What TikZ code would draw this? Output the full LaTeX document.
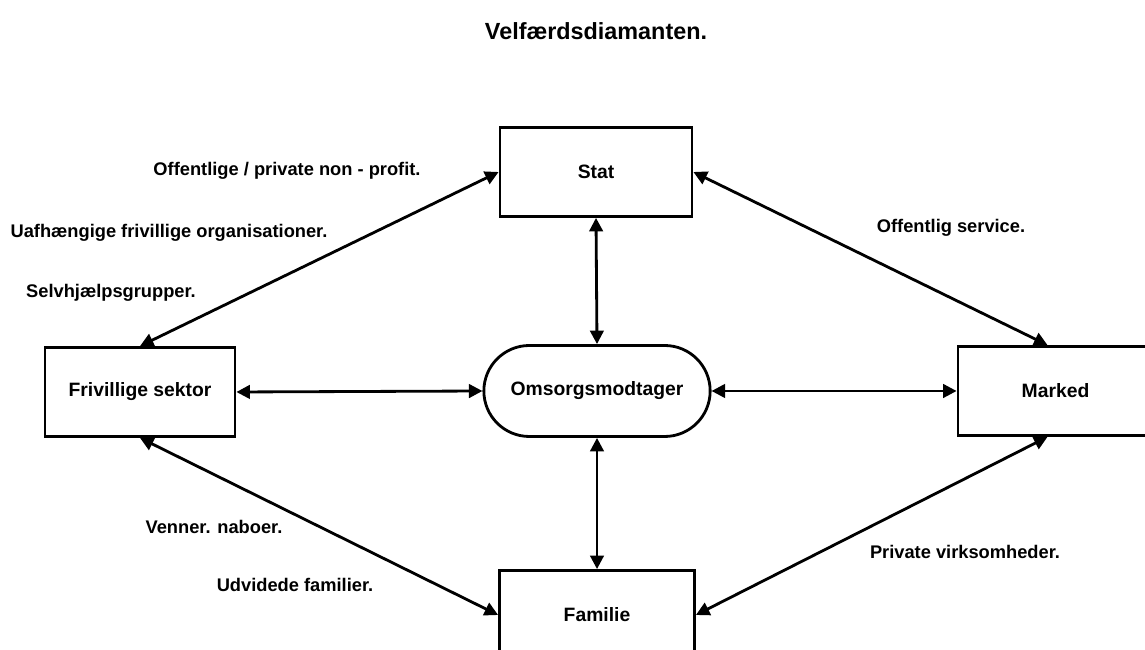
\documentclass[tikz,border=0pt]{standalone}
\usepackage{fontspec}
\setmainfont{Liberation Sans}
\usetikzlibrary{arrows.meta,shapes.misc}

\begin{document}
\begin{tikzpicture}
\tikzset{bx/.style={draw, rectangle, line width=1.6pt, minimum width=3.84cm, minimum height=1.78cm}}
\tikzset{lbl/.style={font=\fontsize{10.4}{12}\selectfont\bfseries}}

\useasboundingbox (0,0) rectangle (22.9,13);

\node [font=\fontsize{13.3}{16}\selectfont\bfseries] (title) at (11.92,12.38) {Velfærdsdiamanten.};

\begin{scope}[every node/.style={font=\fontsize{11}{13}\selectfont\bfseries}]
\node [bx] (S) at (11.92,9.56) {Stat};
\node [bx, minimum width=3.8cm] (F) at (2.80,5.16) {Frivillige sektor};
\node [bx, minimum width=3.9cm] (M) at (21.11,5.18) {Marked};
\node [bx, minimum width=3.9cm] (Fa) at (11.94,0.70) {Familie};
\node [draw, rounded rectangle, line width=1.6pt, minimum width=4.76cm, minimum height=1.82cm] (O) at (11.94,5.18) {Omsorgsmodtager};
\end{scope}

\begin{scope}[every node/.style={lbl}]
\node (l1) at (5.74,9.58) {Offentlige / private non - profit.};
\node (l2) at (3.38,8.34) {Uafhængige frivillige organisationer.};
\node (l3) at (2.22,7.14) {Selvhjælpsgrupper.};
\node (l4) at (19.02,8.44) {Offentlig service.};
\node (l5) at (4.28,2.46) {Venner. naboer.};
\node (l6) at (5.9,1.30) {Udvidede familier.};
\node (l7) at (19.3,1.96) {Private virksomheder.};
\end{scope}

\begin{scope}[every edge/.style={draw=black, line width=1.6pt, {Triangle[length=2.7mm,width=2.7mm]}-{Triangle[length=2.7mm,width=2.7mm]}}]
\path (F.north) edge (S.west);
\path (S.east) edge ([xshift=-0.16cm]M.north);
\path (S.south) edge (O.north);
\path (F.east) edge (O.west);
\path (O.east) edge (M.west);
\path (O.south) edge (Fa.north);
\path (F.south) edge (Fa.west);
\path ([xshift=-0.16cm]M.south) edge (Fa.east);
\end{scope}

\end{tikzpicture}
\end{document}
